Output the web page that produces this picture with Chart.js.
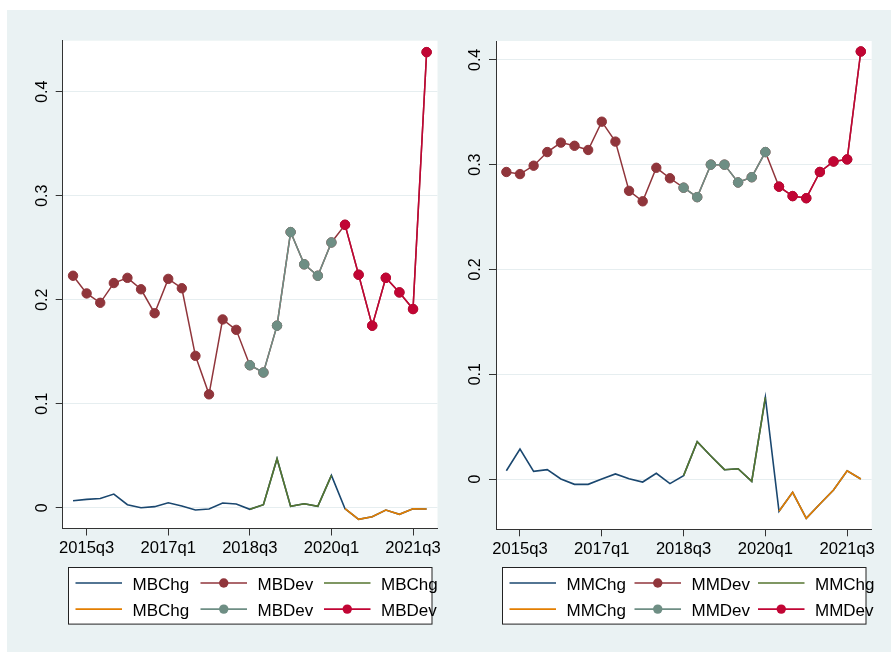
<!DOCTYPE html>
<html>
<head>
<meta charset="utf-8">
<script src="https://cdn.jsdelivr.net/npm/chart.js@4/dist/chart.umd.min.js"></script>
<style>
  html, body { margin: 0; padding: 0; background: #fff; }
  #frame { position: absolute; left: 7px; top: 10px; width: 884px; height: 642px; background: #eaf2f3; }
  #left { position: absolute; left: 7px; top: 10px; }
  #right { position: absolute; left: 452px; top: 10px; }
</style>
</head>
<body>
<div id="frame"></div>
<canvas id="left" width="445" height="642"></canvas>
<canvas id="right" width="439" height="642"></canvas>
<script>
// quarters on the x axis
const quarters = ['2015q2', '2015q3', '2015q4', '2016q1', '2016q2', '2016q3', '2016q4',
    '2017q1', '2017q2', '2017q3', '2017q4', '2018q1', '2018q2', '2018q3', '2018q4',
    '2019q1', '2019q2', '2019q3', '2019q4', '2020q1', '2020q2', '2020q3', '2020q4',
    '2021q1', '2021q2', '2021q3', '2021q4'];
const xTickQuarters = ['2015q3', '2017q1', '2018q3', '2020q1', '2021q3'];
const yTicks = [0, 0.1, 0.2, 0.3, 0.4];
const yTickLabels = ['0', '0.1', '0.2', '0.3', '0.4'];

// left panel
const mbChg = [0.0067, 0.0080, 0.0089, 0.0131, 0.0029, 0.0000, 0.0010, 0.0048, 0.0016, -0.0022,
    -0.0013, 0.0045, 0.0035, -0.0016, 0.0029, 0.0471, 0.0013, 0.0038, 0.0013, 0.0311,
    -0.0010, -0.0112, -0.0087, -0.0023, -0.0064, -0.0010, -0.0013];
const mbDev = [0.223, 0.206, 0.197, 0.216, 0.221, 0.210, 0.187, 0.220, 0.211, 0.146,
    0.109, 0.181, 0.171, 0.137, 0.130, 0.175, 0.265, 0.234, 0.223, 0.255,
    0.272, 0.224, 0.175, 0.221, 0.207, 0.191, 0.438];

// right panel
const mmChg = [0.0079, 0.0286, 0.0073, 0.0089, 0.0000, -0.0051, -0.0051, 0.0000, 0.0048, 0.0003,
    -0.0029, 0.0055, -0.0044, 0.0032, 0.0356, 0.0220, 0.0089, 0.0098, -0.0022, 0.0780,
    -0.0308, -0.0127, -0.0375, -0.0239, -0.0105, 0.0079, 0.0000];
const mmDev = [0.293, 0.291, 0.299, 0.312, 0.321, 0.318, 0.314, 0.341, 0.322, 0.275,
    0.265, 0.297, 0.287, 0.278, 0.269, 0.300, 0.300, 0.283, 0.288, 0.312,
    0.279, 0.270, 0.268, 0.293, 0.303, 0.305, 0.408];

// sub periods highlighted in colour
const midPeriod = ['2018q3', '2020q1'];
const latePeriod = ['2020q2', '2021q4'];

const FONT = '"Liberation Sans", Arial, Helvetica, sans-serif';
const C = {
    navy: '#1a476f', maroon: '#90353b', green: '#55752f',
    orange: '#e37e00', teal: '#6e8e84', cranberry: '#c10534'
};

function pts(arr, period) {
    const from = period ? quarters.indexOf(period[0]) : 0;
    const to = period ? quarters.indexOf(period[1]) : quarters.length - 1;
    const out = [];
    for (let i = from; i <= to; i++) out.push({ x: i, y: arr[i] });
    return out;
}

function lineDs(label, data, color, order) {
    return { label: label, data: data, borderColor: color, backgroundColor: color,
        borderWidth: 1.6, pointRadius: 0, order: order, tension: 0 };
}
function dotDs(label, data, color, order) {
    return { label: label, data: data, borderColor: color, backgroundColor: color,
        borderWidth: 1.5, pointRadius: 4.7, pointBorderWidth: 1,
        pointBackgroundColor: color, pointBorderColor: color, order: order, tension: 0, marker: true };
}

// white plot area, rotated y labels and boxed legend
const panelPlugin = {
    id: 'panel',
    beforeDraw(chart) {
        const ca = chart.chartArea, ctx = chart.ctx;
        ctx.save();
        ctx.fillStyle = '#fff';
        ctx.fillRect(ca.left, ca.top, ca.right - ca.left, ca.bottom - ca.top);
        ctx.restore();
    },
    afterDraw(chart) {
        const ca = chart.chartArea, ctx = chart.ctx, ys = chart.scales.y;
        ctx.save();
        ctx.fillStyle = '#000';
        ctx.font = '16px ' + FONT;
        ctx.textAlign = 'center';
        ctx.textBaseline = 'middle';
        yTicks.forEach((v, i) => {
            ctx.save();
            ctx.translate(ca.left - 20.5, ys.getPixelForValue(v));
            ctx.rotate(-Math.PI / 2);
            ctx.fillText(yTickLabels[i], 0, 0);
            ctx.restore();
        });

        // legend
        const bx = Math.round(ca.left + 5.6) + 0.5, by = Math.round(ca.bottom + 38) + 0.5;
        const bw = 363.5, bh = 56.6;
        ctx.fillStyle = '#fff';
        ctx.fillRect(bx, by, bw, bh);
        ctx.strokeStyle = '#222';
        ctx.lineWidth = 1;
        ctx.strokeRect(bx, by, bw, bh);
        const cols = [7, 132, 255.5], rows = [15.5, 41.6];
        ctx.textAlign = 'left';
        ctx.font = '17px ' + FONT;
        chart.data.datasets.forEach((ds, i) => {
            const x0 = bx + cols[i % 3], y = by + rows[Math.floor(i / 3)];
            ctx.strokeStyle = ds.borderColor;
            ctx.lineWidth = 1.6;
            ctx.beginPath();
            ctx.moveTo(x0, y);
            ctx.lineTo(x0 + 46.5, y);
            ctx.stroke();
            if (ds.marker) {
                ctx.fillStyle = ds.borderColor;
                ctx.beginPath();
                ctx.arc(x0 + 23.25, y, 4.7, 0, Math.PI * 2);
                ctx.fill();
            }
            ctx.fillStyle = '#000';
            ctx.fillText(ds.label, x0 + 57, y + 2);
        });
        ctx.restore();
    }
};

function makePanel(id, chg, dev, chgLabel, devLabel, yMin, yMax, pad) {
    return new Chart(document.getElementById(id), {
        type: 'line',
        data: {
            datasets: [
                lineDs(chgLabel, pts(chg), C.navy, 2),
                dotDs(devLabel, pts(dev), C.maroon, 2),
                lineDs(chgLabel, pts(chg, midPeriod), C.green, 1),
                lineDs(chgLabel, pts(chg, latePeriod), C.orange, 1),
                dotDs(devLabel, pts(dev, midPeriod), C.teal, 1),
                dotDs(devLabel, pts(dev, latePeriod), C.cranberry, 1)
            ]
        },
        options: {
            responsive: false,
            animation: false,
            layout: { padding: pad },
            plugins: { legend: { display: false }, tooltip: { enabled: false } },
            scales: {
                x: {
                    type: 'linear',
                    min: -0.76, max: 26.8,
                    afterBuildTicks: (s) => { s.ticks = xTickQuarters.map(q => ({ value: quarters.indexOf(q) })); },
                    afterFit: (s) => { s.height = 40; },
                    ticks: {
                        callback: (v) => quarters[v],
                        color: '#000', font: { family: FONT, size: 16.6 }, padding: 3,
                        maxRotation: 0, autoSkip: false
                    },
                    grid: { drawOnChartArea: false, drawTicks: true, tickLength: 7, tickColor: '#333' },
                    border: { color: '#333', width: 1 }
                },
                y: {
                    min: yMin, max: yMax,
                    afterBuildTicks: (s) => { s.ticks = yTicks.map(v => ({ value: v })); },
                    afterFit: (s) => { s.width = pad.yWidth; },
                    ticks: { display: false },
                    grid: { color: '#e6eef0', lineWidth: 1, tickLength: 7, tickColor: '#333' },
                    border: { color: '#333', width: 1 }
                }
            }
        },
        plugins: [panelPlugin]
    });
}

makePanel('left', mbChg, mbDev, 'MBChg', 'MBDev', -0.02, 0.449,
    { left: 0, top: 30.7, right: 14.5, bottom: 83.5, yWidth: 55.7 });
makePanel('right', mmChg, mmDev, 'MMChg', 'MMDev', -0.048, 0.418,
    { left: 0, top: 31, right: 19.3, bottom: 82.7, yWidth: 44 });
</script>
</body>
</html>
